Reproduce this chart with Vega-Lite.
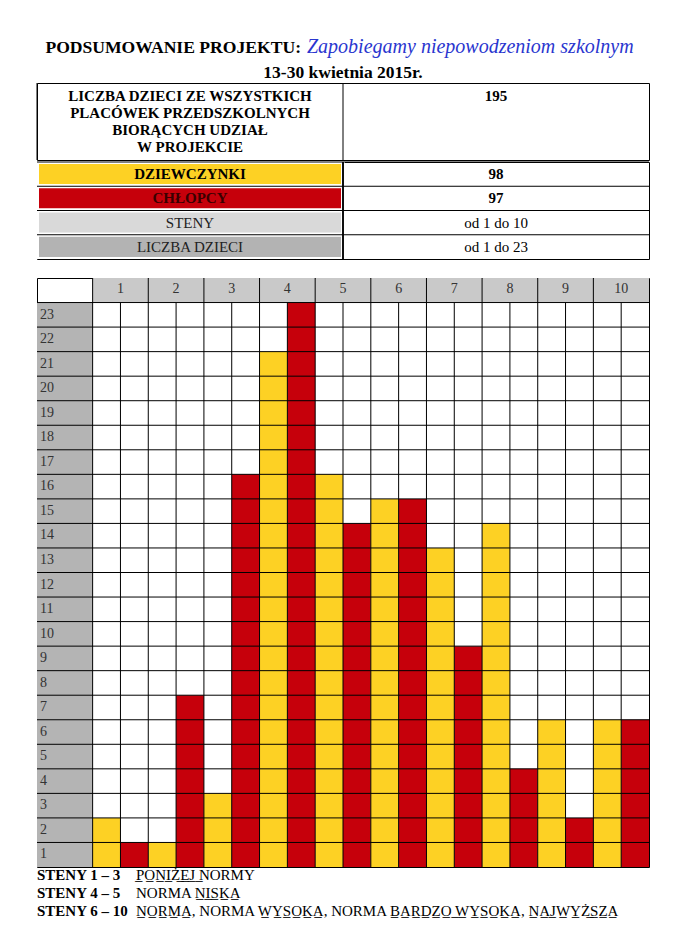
{
  "$schema": "https://vega.github.io/schema/vega-lite/v6.json",
  "padding": {"left": 36, "top": 34, "right": 38, "bottom": 10},
  "background": "white",
  "config": {
    "font": "Liberation Serif",
    "view": {"stroke": "black", "strokeWidth": 1},
    "text": {"font": "Liberation Serif", "color": "black"},
    "rule": {"color": "black", "strokeWidth": 1},
    "axis": {"disable": true},
    "legend": {"disable": true}
  },
  "datasets": {
    "wyniki": [
      {"sten": 1, "plec": "Dziewczynki", "liczba": 2}, {"sten": 1, "plec": "Chłopcy", "liczba": 1},
      {"sten": 2, "plec": "Dziewczynki", "liczba": 1}, {"sten": 2, "plec": "Chłopcy", "liczba": 7},
      {"sten": 3, "plec": "Dziewczynki", "liczba": 3}, {"sten": 3, "plec": "Chłopcy", "liczba": 16},
      {"sten": 4, "plec": "Dziewczynki", "liczba": 21}, {"sten": 4, "plec": "Chłopcy", "liczba": 23},
      {"sten": 5, "plec": "Dziewczynki", "liczba": 16}, {"sten": 5, "plec": "Chłopcy", "liczba": 14},
      {"sten": 6, "plec": "Dziewczynki", "liczba": 15}, {"sten": 6, "plec": "Chłopcy", "liczba": 15},
      {"sten": 7, "plec": "Dziewczynki", "liczba": 13}, {"sten": 7, "plec": "Chłopcy", "liczba": 9},
      {"sten": 8, "plec": "Dziewczynki", "liczba": 14}, {"sten": 8, "plec": "Chłopcy", "liczba": 4},
      {"sten": 9, "plec": "Dziewczynki", "liczba": 6}, {"sten": 9, "plec": "Chłopcy", "liczba": 2},
      {"sten": 10, "plec": "Dziewczynki", "liczba": 6}, {"sten": 10, "plec": "Chłopcy", "liczba": 6}
    ],
    "steny": [{"sten": 1}, {"sten": 2}, {"sten": 3}, {"sten": 4}, {"sten": 5}, {"sten": 6}, {"sten": 7}, {"sten": 8}, {"sten": 9}, {"sten": 10}],
    "wiersze": [{"n": 1}, {"n": 2}, {"n": 3}, {"n": 4}, {"n": 5}, {"n": 6}, {"n": 7}, {"n": 8}, {"n": 9}, {"n": 10}, {"n": 11}, {"n": 12}, {"n": 13}, {"n": 14}, {"n": 15}, {"n": 16}, {"n": 17}, {"n": 18}, {"n": 19}, {"n": 20}, {"n": 21}, {"n": 22}, {"n": 23}]
  },
  "spacing": 17,
  "vconcat": [
    {
      "spacing": 0,
      "vconcat": [
        {
          "width": 612, "height": 48, "view": {"stroke": null},
          "layer": [
            {
              "data": {"values": [{"wiersz": "tytul", "tekst": "PODSUMOWANIE PROJEKTU:"}]},
              "mark": {"type": "text", "fontSize": 17.6, "fontWeight": "bold", "align": "right", "baseline": "middle", "dx": -42, "dy": 2},
              "encoding": {
                "y": {"field": "wiersz", "type": "nominal", "scale": {"type": "band", "domain": ["tytul", "data"], "paddingInner": 0, "paddingOuter": 0}, "axis": null},
                "text": {"field": "tekst", "type": "nominal"}
              }
            },
            {
              "data": {"values": [{"wiersz": "tytul", "tekst": "Zapobiegamy niepowodzeniom szkolnym"}]},
              "mark": {"type": "text", "fontSize": 20, "fontStyle": "italic", "color": "#2a36cf", "align": "left", "baseline": "middle", "dx": -36, "dy": 1},
              "encoding": {
                "y": {"field": "wiersz", "type": "nominal", "axis": null},
                "text": {"field": "tekst", "type": "nominal"}
              }
            },
            {
              "data": {"values": [{"wiersz": "data", "tekst": "13-30 kwietnia 2015r."}]},
              "mark": {"type": "text", "fontSize": 17.5, "fontWeight": "bold", "align": "center", "baseline": "middle", "dy": 3},
              "encoding": {
                "y": {"field": "wiersz", "type": "nominal", "axis": null},
                "text": {"field": "tekst", "type": "nominal"}
              }
            }
          ]
        },
        {
          "width": 612, "height": 77,
          "data": {"values": [
            {"kolumna": "nazwa", "tekst": "LICZBA DZIECI ZE WSZYSTKICH\nPLACÓWEK PRZEDSZKOLNYCH\nBIORĄCYCH UDZIAŁ\nW PROJEKCIE"},
            {"kolumna": "wartosc", "tekst": "195"}
          ]},
          "layer": [
            {
              "mark": {"type": "rule"},
              "encoding": {"x": {"field": "kolumna", "type": "nominal", "bandPosition": 0, "scale": {"type": "band", "domain": ["nazwa", "wartosc"], "paddingInner": 0, "paddingOuter": 0}, "axis": null}}
            },
            {
              "transform": [{"filter": {"field": "kolumna", "equal": "nazwa"}}],
              "mark": {"type": "text", "fontSize": 15, "fontWeight": "bold", "lineBreak": "\n", "lineHeight": 17, "baseline": "middle", "dy": -26},
              "encoding": {
                "x": {"field": "kolumna", "type": "nominal", "axis": null},
                "text": {"field": "tekst", "type": "nominal"}
              }
            },
            {
              "transform": [{"filter": {"field": "kolumna", "equal": "wartosc"}}],
              "mark": {"type": "text", "fontSize": 15, "fontWeight": "bold", "baseline": "middle", "dy": -26},
              "encoding": {
                "x": {"field": "kolumna", "type": "nominal", "axis": null},
                "text": {"field": "tekst", "type": "nominal"}
              }
            }
          ]
        },
        {
          "width": 612, "height": 97,
          "data": {"values": [
            {"wiersz": 1, "nazwa": "DZIEWCZYNKI", "wartosc": "98"},
            {"wiersz": 2, "nazwa": "CHŁOPCY", "wartosc": "97"},
            {"wiersz": 3, "nazwa": "STENY", "wartosc": "od 1 do 10"},
            {"wiersz": 4, "nazwa": "LICZBA DZIECI", "wartosc": "od 1 do 23"}
          ]},
          "layer": [
            {
              "mark": {"type": "rect", "stroke": "white", "strokeWidth": 4, "clip": true},
              "encoding": {
                "x": {"datum": "nazwa", "type": "nominal", "scale": {"type": "band", "domain": ["nazwa", "wartosc"], "paddingInner": 0, "paddingOuter": 0}, "axis": null},
                "y": {"field": "wiersz", "type": "ordinal", "scale": {"type": "band", "paddingInner": 0, "paddingOuter": 0}, "axis": null},
                "color": {"field": "nazwa", "type": "nominal", "scale": {"domain": ["DZIEWCZYNKI", "CHŁOPCY", "STENY", "LICZBA DZIECI"], "range": ["#FDD124", "#C6000B", "#D9D9D9", "#B3B3B3"]}, "legend": null}
              }
            },
            {
              "mark": {"type": "rule"},
              "encoding": {"y": {"field": "wiersz", "type": "ordinal", "bandPosition": 0, "axis": null}}
            },
            {
              "mark": {"type": "rule"},
              "encoding": {"x": {"datum": "wartosc", "type": "nominal", "bandPosition": 0, "axis": null}}
            },
            {
              "transform": [{"filter": {"field": "wiersz", "equal": 1}}],
              "mark": {"type": "text", "fontSize": 15, "fontWeight": "bold", "baseline": "middle"},
              "encoding": {
                "x": {"datum": "nazwa", "type": "nominal", "axis": null},
                "y": {"field": "wiersz", "type": "ordinal", "axis": null},
                "text": {"field": "nazwa", "type": "nominal"}
              }
            },
            {
              "transform": [{"filter": {"field": "wiersz", "equal": 2}}],
              "mark": {"type": "text", "fontSize": 15, "fontWeight": "bold", "baseline": "middle", "color": "#3a0000"},
              "encoding": {
                "x": {"datum": "nazwa", "type": "nominal", "axis": null},
                "y": {"field": "wiersz", "type": "ordinal", "axis": null},
                "text": {"field": "nazwa", "type": "nominal"}
              }
            },
            {
              "transform": [{"filter": {"field": "wiersz", "gte": 3}}],
              "mark": {"type": "text", "fontSize": 15, "baseline": "middle", "color": "#222222"},
              "encoding": {
                "x": {"datum": "nazwa", "type": "nominal", "axis": null},
                "y": {"field": "wiersz", "type": "ordinal", "axis": null},
                "text": {"field": "nazwa", "type": "nominal"}
              }
            },
            {
              "transform": [{"filter": {"field": "wiersz", "lte": 2}}],
              "mark": {"type": "text", "fontSize": 15, "fontWeight": "bold", "baseline": "middle"},
              "encoding": {
                "x": {"datum": "wartosc", "type": "nominal", "axis": null},
                "y": {"field": "wiersz", "type": "ordinal", "axis": null},
                "text": {"field": "wartosc", "type": "nominal"}
              }
            },
            {
              "transform": [{"filter": {"field": "wiersz", "gte": 3}}],
              "mark": {"type": "text", "fontSize": 15, "baseline": "middle"},
              "encoding": {
                "x": {"datum": "wartosc", "type": "nominal", "axis": null},
                "y": {"field": "wiersz", "type": "ordinal", "axis": null},
                "text": {"field": "wartosc", "type": "nominal"}
              }
            }
          ]
        }
      ]
    },
    {
      "spacing": 0,
      "vconcat": [
        {
          "width": 612, "height": 589,
          "layer": [
            {
              "data": {"name": "steny"},
              "mark": {"type": "rect", "fill": "#C9C9C9"},
              "encoding": {
                "x": {"field": "sten", "type": "ordinal", "scale": {"type": "band", "domain": [0, 1, 2, 3, 4, 5, 6, 7, 8, 9, 10], "paddingInner": 0, "paddingOuter": 0}, "axis": null},
                "y": {"datum": 23, "type": "quantitative", "scale": {"domain": [0, 24], "nice": false, "zero": false}, "axis": null},
                "y2": {"datum": 24}
              }
            },
            {
              "data": {"values": [{}]},
              "mark": {"type": "rect", "fill": "#B4B4B4"},
              "encoding": {
                "x": {"datum": 0, "type": "ordinal", "axis": null},
                "y": {"datum": 0, "type": "quantitative", "axis": null},
                "y2": {"datum": 23}
              }
            },
            {
              "data": {"name": "wyniki"},
              "mark": {"type": "bar"},
              "encoding": {
                "x": {"field": "sten", "type": "ordinal", "axis": null},
                "xOffset": {"field": "plec", "type": "nominal", "scale": {"type": "band", "domain": ["Dziewczynki", "Chłopcy"], "paddingInner": 0, "paddingOuter": 0}},
                "y": {"field": "liczba", "type": "quantitative", "axis": null},
                "color": {"field": "plec", "type": "nominal", "scale": {"domain": ["Dziewczynki", "Chłopcy"], "range": ["#FDD124", "#C6000B"]}, "legend": null}
              }
            },
            {
              "data": {"name": "wiersze"},
              "mark": {"type": "rule"},
              "encoding": {"y": {"field": "n", "type": "quantitative", "axis": null}}
            },
            {
              "data": {"name": "steny"},
              "mark": {"type": "rule"},
              "encoding": {"x": {"field": "sten", "type": "ordinal", "bandPosition": 0, "axis": null}}
            },
            {
              "data": {"name": "steny"},
              "mark": {"type": "rule"},
              "encoding": {
                "x": {"field": "sten", "type": "ordinal", "bandPosition": 0.5, "axis": null},
                "y": {"datum": 0, "type": "quantitative", "axis": null},
                "y2": {"datum": 23}
              }
            },
            {
              "data": {"name": "wiersze"},
              "mark": {"type": "text", "fontSize": 14, "align": "left", "baseline": "top", "dx": 3, "dy": 5, "color": "#333333"},
              "encoding": {
                "x": {"datum": 0, "type": "ordinal", "bandPosition": 0, "axis": null},
                "y": {"field": "n", "type": "quantitative", "axis": null},
                "text": {"field": "n", "type": "nominal"}
              }
            },
            {
              "data": {"name": "steny"},
              "mark": {"type": "text", "fontSize": 14, "baseline": "top", "dy": 4, "color": "#333333"},
              "encoding": {
                "x": {"field": "sten", "type": "ordinal", "axis": null},
                "y": {"datum": 24, "type": "quantitative", "axis": null},
                "text": {"field": "sten", "type": "nominal"}
              }
            }
          ]
        },
        {
          "width": 612, "height": 54, "view": {"stroke": null},
          "data": {"values": [
            {"linia": 1, "etykieta": "STENY 1 – 3", "opis": "P̲O̲N̲I̲Ż̲E̲J̲ ̲NORMY"},
            {"linia": 2, "etykieta": "STENY 4 – 5", "opis": "NORMA N̲I̲S̲K̲A̲"},
            {"linia": 3, "etykieta": "STENY 6 – 10", "opis": "N̲O̲R̲M̲A̲, NORMA W̲Y̲S̲O̲K̲A̲, NORMA B̲A̲R̲D̲Z̲O̲ ̲W̲Y̲S̲O̲K̲A̲,  N̲A̲J̲W̲Y̲Ż̲S̲Z̲A̲"}
          ]},
          "encoding": {
            "y": {"field": "linia", "type": "ordinal", "scale": {"type": "band", "paddingInner": 0, "paddingOuter": 0}, "axis": null},
            "x": {"datum": "tekst", "type": "nominal", "bandPosition": 0, "scale": {"type": "band", "domain": ["tekst"], "paddingInner": 0, "paddingOuter": 0}, "axis": null}
          },
          "layer": [
            {
              "mark": {"type": "text", "fontSize": 15, "fontWeight": "bold", "align": "left", "baseline": "middle", "dy": -2},
              "encoding": {"text": {"field": "etykieta", "type": "nominal"}}
            },
            {
              "mark": {"type": "text", "fontSize": 15, "align": "left", "baseline": "middle", "dx": 99, "dy": -2},
              "encoding": {"text": {"field": "opis", "type": "nominal"}}
            }
          ]
        }
      ]
    }
  ]
}
